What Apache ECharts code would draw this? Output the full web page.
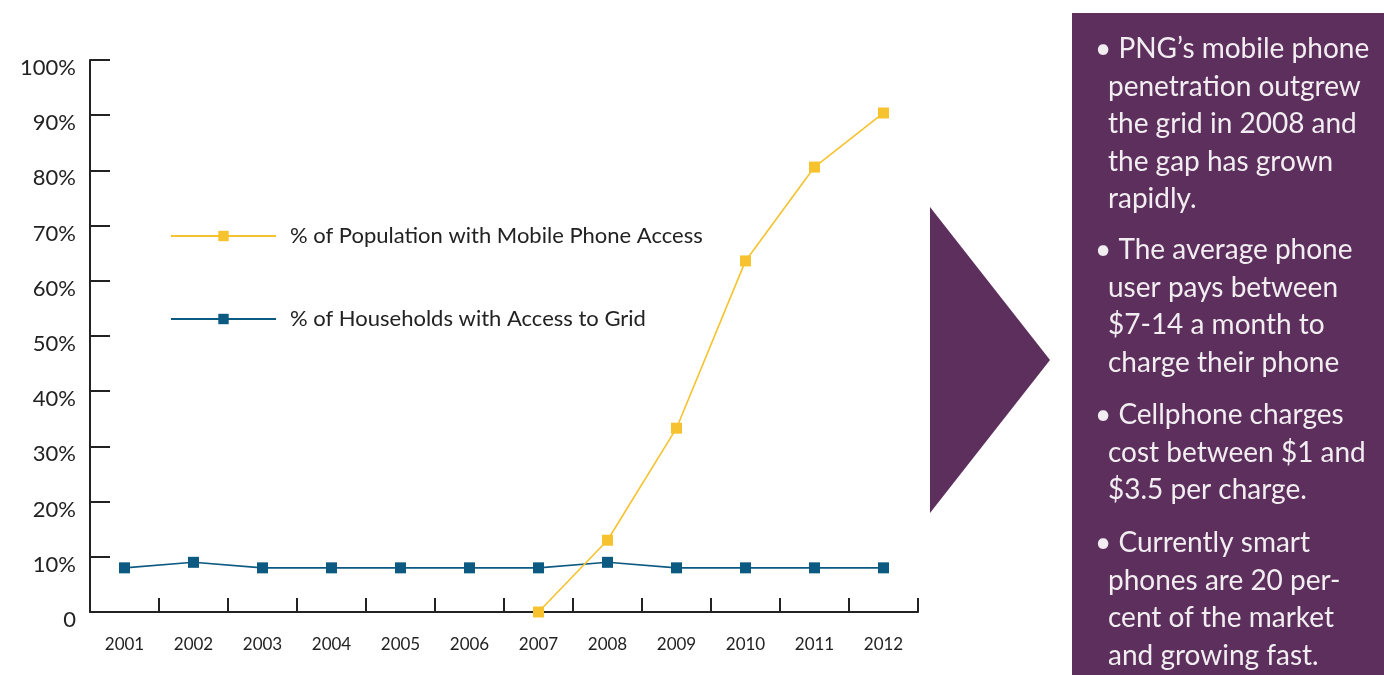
<!DOCTYPE html>
<html>
<head>
<meta charset="utf-8">
<script src="https://cdn.jsdelivr.net/npm/echarts@6/dist/echarts.min.js"></script>
<style>html,body{margin:0;padding:0;background:#fff;}#c{width:1384px;height:675px;}</style>
</head>
<body>
<div id="c"></div>
<script>
const years = ['2001','2002','2003','2004','2005','2006','2007','2008','2009','2010','2011','2012'];
const mobileAccess = [null, null, null, null, null, null, 0, 13, 33.3, 63.6, 80.6, 90.4];
const gridAccess = [8, 9, 8, 8, 8, 8, 8, 9, 8, 8, 8, 8];
const seriesNames = ['% of Population with Mobile Phone Access', '% of Households with Access to Grid'];
const yTicks = [0, 10, 20, 30, 40, 50, 60, 70, 80, 90, 100];
const panelLines = [
  ['• PNG’s mobile phone', 'penetration outgrew', 'the grid in 2008 and', 'the gap has grown', 'rapidly.'],
  ['• The average phone', 'user pays between', '$7-14 a month to', 'charge their phone'],
  ['• Cellphone charges', 'cost between $1 and', '$3.5 per charge.'],
  ['• Currently smart', 'phones are 20 per-', 'cent of the market', 'and growing fast.']
];

const FONT = 'Lato';
const YELLOW = '#F6C22D';
const BLUE = '#0C5A82';
const PURPLE = '#5C2F5D';

const graphics = [
  { type: 'polygon', shape: { points: [[930, 207], [1050, 360], [930, 513]] }, style: { fill: PURPLE } },
  { type: 'rect', shape: { x: 1072, y: 13, width: 312, height: 662 }, style: { fill: PURPLE } }
];
const paraTops = [49, 250, 415, 543];
const lh = 37.5;
panelLines.forEach((para, pi) => {
  para.forEach((line, li) => {
    graphics.push({
      type: 'text',
      x: li === 0 ? 1095 : 1108,
      y: paraTops[pi] + li * lh,
      style: {
        text: line,
        fill: '#F2EDF1',
        font: '28px ' + FONT,
        textVerticalAlign: 'middle',
        verticalAlign: 'middle'
      }
    });
  });
});

const chart = echarts.init(document.getElementById('c'), null, { renderer: 'canvas' });
chart.setOption({
  animation: false,
  backgroundColor: '#fff',
  grid: { left: 90, right: 466, top: 60, bottom: 63, containLabel: false },
  legend: [
    {
      data: [seriesNames[0]], left: 165, top: 220, orient: 'vertical',
      itemWidth: 105, itemHeight: 13,
      textStyle: { fontFamily: FONT, fontSize: 22, color: '#222', padding: [0, 0, 0, 9] }
    },
    {
      data: [seriesNames[1]], left: 165, top: 303, orient: 'vertical',
      itemWidth: 105, itemHeight: 13,
      textStyle: { fontFamily: FONT, fontSize: 22, color: '#222', padding: [0, 0, 0, 9] }
    }
  ],
  xAxis: {
    type: 'category',
    data: years,
    boundaryGap: true,
    axisLine: { lineStyle: { color: '#222', width: 2 } },
    axisTick: { show: true, inside: true, length: 14, alignWithLabel: false, lineStyle: { color: '#222', width: 2 } },
    axisLabel: { fontFamily: FONT, fontSize: 17, color: '#222', margin: 24 },
    splitLine: { show: false }
  },
  yAxis: {
    type: 'value',
    min: 0, max: 100, interval: 10,
    axisLine: { show: true, lineStyle: { color: '#222', width: 2 } },
    axisTick: { show: true, inside: true, length: 20, lineStyle: { color: '#222', width: 2 } },
    axisLabel: {
      fontFamily: FONT, fontSize: 22, color: '#222', margin: 14,
      verticalAlign: 'top', lineHeight: 16,
      formatter: v => (yTicks.includes(v) ? (v === 0 ? '0' : v + '%') : '')
    },
    splitLine: { show: false }
  },
  series: [
    {
      name: seriesNames[0], type: 'line', data: mobileAccess,
      symbol: 'rect', symbolSize: 11, showAllSymbol: true,
      lineStyle: { color: YELLOW, width: 1.6 }, itemStyle: { color: YELLOW },
      z: 3
    },
    {
      name: seriesNames[1], type: 'line', data: gridAccess,
      symbol: 'rect', symbolSize: 11, showAllSymbol: true,
      lineStyle: { color: BLUE, width: 1.6 }, itemStyle: { color: BLUE },
      z: 2
    }
  ],
  graphic: graphics
});
</script>
</body>
</html>
